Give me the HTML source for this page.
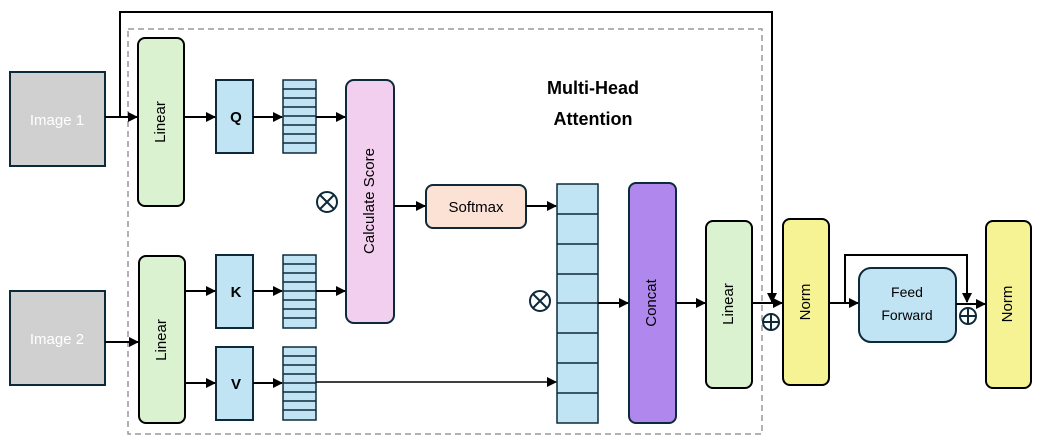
<!DOCTYPE html>
<html><head><meta charset="utf-8"><style>body{margin:0;background:#fff}svg{display:block}text{font-family:"Liberation Sans",sans-serif}</style></head><body>
<svg width="1047" height="443" viewBox="0 0 1047 443" xmlns="http://www.w3.org/2000/svg">
<defs><marker id="a" markerWidth="10" markerHeight="10" refX="9" refY="5" orient="auto" markerUnits="userSpaceOnUse"><path d="M0,0 L10,5 L0,10 z" fill="#000"/></marker></defs>
<rect x="128" y="29" width="634" height="405" fill="none" stroke="#999" stroke-width="1.5" stroke-dasharray="6,4"/>
<g stroke="#0d2a3a" stroke-width="2">
<rect x="10" y="72" width="95" height="94" fill="#d0d0d0"/>
<rect x="10" y="291" width="95" height="94" fill="#d0d0d0"/>
<rect x="138" y="38" width="46" height="168" rx="7" fill="#daf2d0" stroke="#000"/>
<rect x="139" y="256" width="46" height="167" rx="7" fill="#daf2d0" stroke="#000"/>
<rect x="216" y="80" width="37" height="73" fill="#c1e4f5"/>
<rect x="216" y="255" width="37" height="73" fill="#c1e4f5"/>
<rect x="216" y="347" width="37" height="73" fill="#c1e4f5"/>
<rect x="346" y="80" width="48" height="243" rx="8" fill="#f2ceef"/>
<rect x="426" y="185" width="100" height="43" rx="7" fill="#fbe2d5"/>
<rect x="629" y="183" width="47" height="240" rx="7" fill="#b088ed"/>
<rect x="706" y="221" width="46" height="167" rx="7" fill="#daf2d0" stroke="#000"/>
<rect x="783" y="219" width="46" height="166" rx="7" fill="#f5f393" stroke="#000"/>
<rect x="986" y="221" width="45" height="167" rx="7" fill="#f5f393" stroke="#000"/>
<rect x="859" y="268" width="97" height="74" rx="12" fill="#c1e4f5"/>
</g>
<g stroke="#0d2a3a" stroke-width="1.5" fill="#c1e4f5">
<rect x="283" y="80" width="33" height="73"/>
<rect x="283" y="255" width="33" height="73"/>
<rect x="283" y="347" width="33" height="73"/>
<rect x="557" y="184" width="41" height="239"/>
</g>
<g stroke="#0d2a3a" stroke-width="1.5">
<path d="M283 89h33M283 98h33M283 107h33M283 116h33M283 125h33M283 134h33M283 143h33"/>
<path d="M283 264h33M283 273h33M283 282h33M283 291h33M283 300h33M283 309h33M283 318h33"/>
<path d="M283 356h33M283 365h33M283 374h33M283 383h33M283 392h33M283 401h33M283 410h33"/>
<path d="M557 214h41M557 244h41M557 274h41M557 303h41M557 333h41M557 363h41M557 393h41"/>
</g>
<g stroke="#000" stroke-width="2" fill="none">
<path d="M105 117H137" marker-end="url(#a)"/>
<path d="M120 117V12H772V302" marker-end="url(#a)"/>
<path d="M184 117H215" marker-end="url(#a)"/>
<path d="M253 117H282" marker-end="url(#a)"/>
<path d="M316 117H345" marker-end="url(#a)"/>
<path d="M105 342H138" marker-end="url(#a)"/>
<path d="M185 291H215" marker-end="url(#a)"/>
<path d="M253 291H282" marker-end="url(#a)"/>
<path d="M316 291H345" marker-end="url(#a)"/>
<path d="M185 383H215" marker-end="url(#a)"/>
<path d="M253 383H282" marker-end="url(#a)"/>
<path d="M316 382H556" stroke-width="1.5" marker-end="url(#a)"/>
<path d="M394 206H425" marker-end="url(#a)"/>
<path d="M526 206H556" marker-end="url(#a)"/>
<path d="M598 303H628" marker-end="url(#a)"/>
<path d="M676 303H705" marker-end="url(#a)"/>
<path d="M752 303H782" marker-end="url(#a)"/>
<path d="M829 303H858" marker-end="url(#a)"/>
<path d="M845 303V255H967V302" marker-end="url(#a)"/>
<path d="M956 304H985" marker-end="url(#a)"/>
</g>
<g stroke="#0d2a3a" stroke-width="2" fill="none">
<circle cx="327" cy="202" r="10"/><path d="M320 195l14 14M334 195l-14 14"/>
<circle cx="540" cy="301" r="10"/><path d="M533 294l14 14M547 294l-14 14"/>
<circle cx="771" cy="322" r="8"/><path d="M763 322h16M771 314v16"/>
<circle cx="968" cy="316" r="8"/><path d="M960 316h16M968 308v16"/>
</g>
<g font-size="15" fill="#fff" text-anchor="middle"><text x="57" y="125">Image 1</text><text x="57" y="344">Image 2</text></g>
<g font-size="15" fill="#000" text-anchor="middle">
<text x="161" y="122" transform="rotate(-90 161 122)" dominant-baseline="middle">Linear</text>
<text x="162" y="340" transform="rotate(-90 162 340)" dominant-baseline="middle">Linear</text>
<text x="370" y="201" transform="rotate(-90 370 201)" dominant-baseline="middle">Calculate Score</text>
<text x="652" y="303" transform="rotate(-90 652 303)" dominant-baseline="middle">Concat</text>
<text x="729" y="304" transform="rotate(-90 729 304)" dominant-baseline="middle">Linear</text>
<text x="806" y="302" transform="rotate(-90 806 302)" dominant-baseline="middle">Norm</text>
<text x="1008" y="304" transform="rotate(-90 1008 304)" dominant-baseline="middle">Norm</text>
<text x="476" y="212">Softmax</text>
<text x="907" y="297" font-size="14">Feed</text>
<text x="907" y="320" font-size="14">Forward</text>
<g font-weight="bold"><text x="236" y="122">Q</text><text x="236" y="297">K</text><text x="236" y="389">V</text>
<text x="593" y="94" font-size="18">Multi-Head</text><text x="593" y="125" font-size="18">Attention</text></g>
</g>
</svg>
</body></html>
